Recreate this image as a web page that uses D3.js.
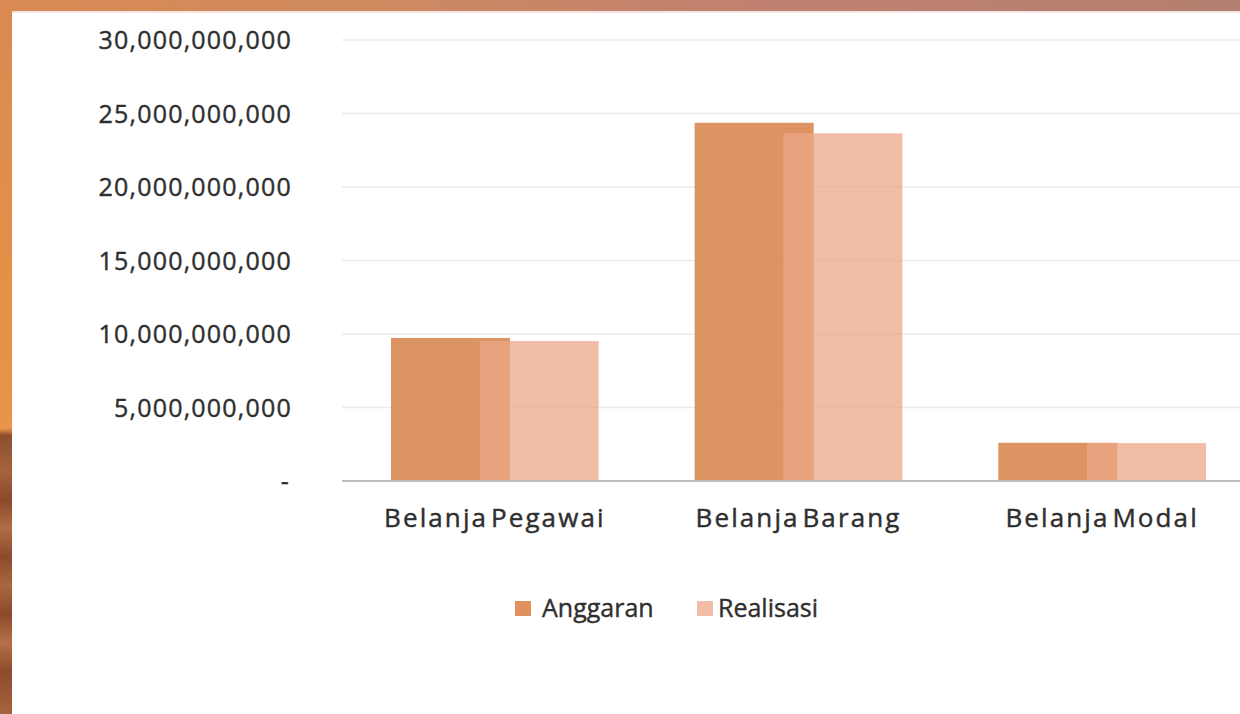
<!DOCTYPE html>
<html>
<head>
<meta charset="utf-8">
<script src="https://cdn.jsdelivr.net/npm/d3@7/dist/d3.min.js"></script>
<style>
  html, body { margin: 0; padding: 0; background: #fff; }
  svg { display: block; }
</style>
</head>
<body>
<svg id="chart" width="1240" height="714"></svg>
<script>
// ---- data ----
const categories = ["Belanja Pegawai", "Belanja Barang", "Belanja Modal"];
const seriesNames = ["Anggaran", "Realisasi"];
const anggaran = [9.73e9, 24.37e9, 2.6e9];
const realisasi = [9.52e9, 23.65e9, 2.58e9];
const yTicks = [0, 5e9, 10e9, 15e9, 20e9, 25e9, 30e9];
const yTickLabels = ["-", "5,000,000,000", "10,000,000,000", "15,000,000,000", "20,000,000,000", "25,000,000,000", "30,000,000,000"];

// ---- styles ----
const W = 1240, H = 714;
const colors = { Anggaran: "#d98e5a", Realisasi: "#eea788" };
const opac = { Anggaran: 0.95, Realisasi: 0.75 };
const legendColors = { Anggaran: "#e0925e", Realisasi: "#f2bca6" };
const textColor = "#2f2f2f";
const font = "'Open Sans', 'Liberation Sans', sans-serif";

const svg = d3.select("#chart");

// ---- background frame (slide texture) ----
const defs = svg.append("defs");
const gTop = defs.append("linearGradient").attr("id", "topGrad").attr("x1", 0).attr("x2", 1).attr("y1", 0).attr("y2", 0);
[[0, "#d98a52"], [0.3, "#cf8a60"], [0.6, "#c08170"], [1, "#b47f70"]].forEach(([o, c]) =>
  gTop.append("stop").attr("offset", o).attr("stop-color", c));
const gLeft = defs.append("linearGradient").attr("id", "leftGrad").attr("x1", 0).attr("x2", 0).attr("y1", 0).attr("y2", 1);
const leftStops = [[0, "#d98a52"], [0.4, "#e59048"], [0.6, "#e8944a"], [0.61, "#8c4e2e"], [0.66, "#a5643e"], [0.7, "#8a4a2a"],
  [0.74, "#b06e45"], [0.78, "#8b4b2b"], [0.82, "#a86840"], [0.86, "#8a4a2a"], [0.9, "#b57048"], [0.94, "#8c4c2c"], [1, "#a6643e"]];
leftStops.forEach(([o, c]) => gLeft.append("stop").attr("offset", o).attr("stop-color", c));

svg.append("rect").attr("x", 0).attr("y", 0).attr("width", W).attr("height", H).attr("fill", "#fff");
svg.append("rect").attr("x", 0).attr("y", 0).attr("width", W).attr("height", 11).attr("fill", "url(#topGrad)");
svg.append("rect").attr("x", 0).attr("y", 0).attr("width", 12).attr("height", H).attr("fill", "url(#leftGrad)");
svg.append("rect").attr("x", 12).attr("y", 11).attr("width", W - 12).attr("height", 2).attr("fill", "#f3e6e2");

// ---- scales ----
const x = d3.scaleBand().domain(categories).range([343, 1254]).padding(0);
const y = d3.scaleLinear().domain([0, 30e9]).range([481, 40]);

const barW = x.bandwidth() * 0.392;
const overlap = barW * 0.255;
const groupW = 2 * barW - overlap;

// ---- gridlines ----
svg.append("g").selectAll("line").data(yTicks.filter(d => d > 0)).join("line")
  .attr("x1", 342).attr("x2", W).attr("y1", d => y(d)).attr("y2", d => y(d))
  .attr("stroke", "#ebebeb").attr("stroke-width", 1.5);

// ---- bars ----
const seriesData = [anggaran, realisasi];
seriesNames.forEach((name, si) => {
  svg.append("g").selectAll("rect").data(categories).join("rect")
    .attr("x", (c) => x(c) + x.bandwidth() / 2 - groupW / 2 + si * (barW - overlap))
    .attr("y", (c, i) => y(seriesData[si][i]))
    .attr("width", barW)
    .attr("height", (c, i) => y(0) - y(seriesData[si][i]))
    .attr("fill", colors[name])
    .attr("fill-opacity", opac[name]);
});

// ---- baseline ----
svg.append("line").attr("x1", 342).attr("x2", W).attr("y1", y(0)).attr("y2", y(0))
  .attr("stroke", "#bfbfbf").attr("stroke-width", 2);

// ---- y axis labels ----
svg.append("g").selectAll("text").data(yTicks).join("text")
  .attr("x", (d, i) => i === 0 ? 290 : 292)
  .attr("y", d => y(d))
  .attr("dy", "0.36em")
  .attr("text-anchor", "end")
  .attr("font-family", font)
  .attr("font-size", 25)
  .attr("letter-spacing", 1.2)
  .attr("stroke", textColor).attr("stroke-width", 0.4)
  .attr("fill", textColor)
  .text((d, i) => yTickLabels[i]);

// ---- category labels ----
svg.append("g").selectAll("text").data(categories).join("text")
  .attr("x", c => x(c) + x.bandwidth() / 2)
  .attr("y", 527)
  .attr("text-anchor", "middle")
  .attr("font-family", font)
  .attr("font-size", 26)
  .attr("letter-spacing", 2.1)
  .attr("word-spacing", -6)
  .attr("stroke", textColor).attr("stroke-width", 0.45)
  .attr("fill", textColor)
  .text(c => c);

// ---- legend ----
const legendPos = [{ sx: 515, tx: 542 }, { sx: 697, tx: 718 }];
const lg = svg.append("g");
seriesNames.forEach((name, i) => {
  lg.append("rect").attr("x", legendPos[i].sx).attr("y", 601).attr("width", 16).attr("height", 15)
    .attr("fill", legendColors[name]);
  lg.append("text").attr("x", legendPos[i].tx).attr("y", 617)
    .attr("font-family", font).attr("font-size", 25)
    .attr("stroke", textColor).attr("stroke-width", 0.4)
    .attr("fill", textColor)
    .text(name);
});
</script>
</body>
</html>
